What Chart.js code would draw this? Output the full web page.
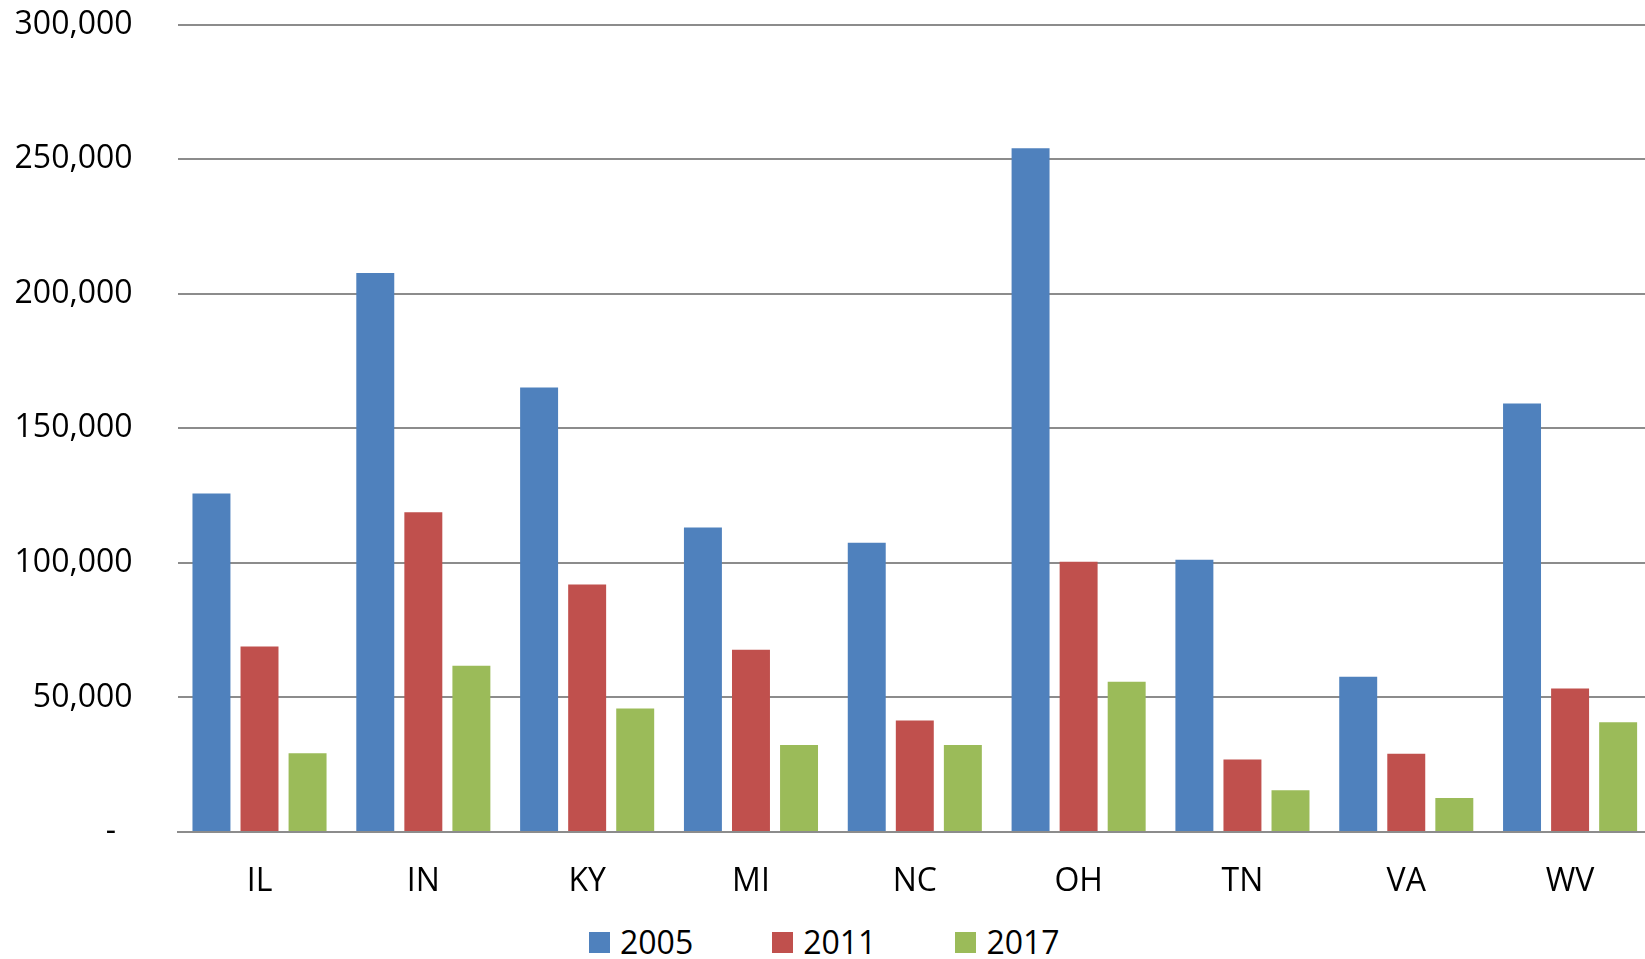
<!DOCTYPE html>
<html>
<head>
<meta charset="utf-8">
<script src="https://cdn.jsdelivr.net/npm/chart.js@4"></script>
<style>
  html,body{margin:0;padding:0;background:#fff;overflow:hidden;}
  #wrap{position:absolute;left:0;top:0;}
  #legend{position:absolute;left:589px;top:921px;display:flex;align-items:center;
          font-family:'Open Sans',sans-serif;font-size:32px;color:#000;line-height:42px;}
  #legend .item{display:flex;align-items:center;margin-right:79px;}
  #legend .box{width:21px;height:21px;margin-right:10px;}
</style>
</head>
<body>
<div id="wrap"><canvas id="chart" width="1652" height="902"></canvas></div>
<div id="legend"></div>
<script>
const STATES = ['IL','IN','KY','MI','NC','OH','TN','VA','WV'];
const YEARS = ['2005','2011','2017'];
const VALUES_2005 = [125800, 207700, 165200, 113200, 107500, 254100, 101200, 57700, 159200];
const VALUES_2011 = [68900, 118800, 92000, 67700, 41400, 100400, 26900, 29100, 53300];
const VALUES_2017 = [29300, 61800, 45900, 32300, 32300, 55800, 15500, 12600, 40800];
const BAR_COLORS = ['#4F81BD','#C0504D','#9BBB59'];
const Y_MAX = 300000, Y_STEP = 50000;

const FONT = { family:"'Open Sans', sans-serif", size:32 };
const GRID = '#8c8c8c';

const series = [VALUES_2005, VALUES_2011, VALUES_2017];
const datasets = YEARS.map((y,i)=>({
  label:y,
  data:series[i],
  backgroundColor:BAR_COLORS[i],
  borderWidth:0,
  categoryPercentage:0.88,
  barPercentage:0.79
}));

const chart = new Chart(document.getElementById('chart').getContext('2d'),{
  type:'bar',
  data:{ labels:STATES, datasets },
  options:{
    responsive:false,
    animation:false,
    layout:{ padding:{ top:24.7, right:0, bottom:0, left:0 } },
    scales:{
      x:{
        grid:{ display:false, drawTicks:false },
        border:{ display:true, color:GRID, width:2 },
        ticks:{ color:'#000', font:FONT, padding:31, maxRotation:0 },
        afterFit:s=>{ s.height = 70; }
      },
      y:{
        min:0, max:Y_MAX,
        grid:{ color:GRID, lineWidth:2, drawTicks:false },
        border:{ display:false },
        ticks:{ stepSize:Y_STEP, color:'#000', font:FONT, padding:45,
                callback:v=>v===0?'-  ':v.toLocaleString('en-US') },
        afterFit:s=>{ s.width = 177.6; s.paddingTop = 0; s.paddingBottom = 0; }
      }
    },
    plugins:{ legend:{ display:false }, tooltip:{ enabled:false } }
  }
});

// legend below the chart, same look as the office-style original
const leg = document.getElementById('legend');
chart.data.datasets.forEach(ds=>{
  const it = document.createElement('div');
  it.className='item';
  it.innerHTML = '<span class="box" style="background:'+ds.backgroundColor+'"></span><span>'+ds.label+'</span>';
  leg.appendChild(it);
});
</script>
</body>
</html>
